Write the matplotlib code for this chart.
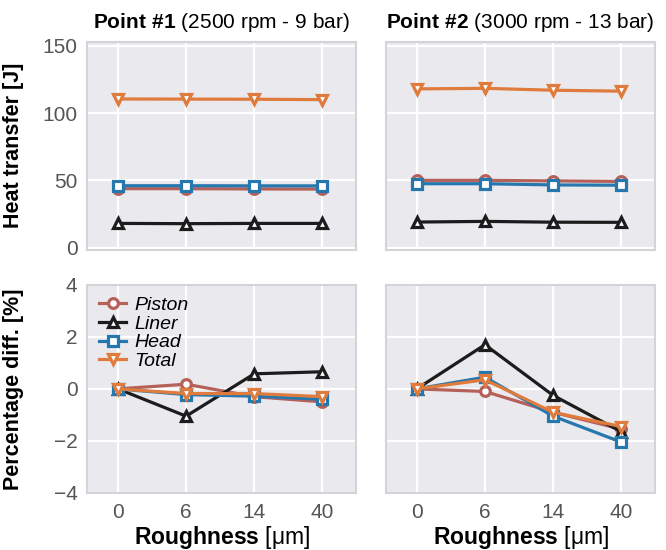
import numpy as np
import matplotlib
matplotlib.use("Agg")
import matplotlib.pyplot as plt

plt.rcParams['font.family'] = ['Liberation Sans', 'DejaVu Sans']
plt.rcParams['mathtext.fontset'] = 'custom'
plt.rcParams['mathtext.bf'] = 'Liberation Sans:bold'
plt.rcParams['mathtext.rm'] = 'Liberation Sans'

roughness = ['0', '6', '14', '40']
titles = [(r'$\bf{Point\ \#1}$', ' (2500 rpm - 9 bar)'),
          (r'$\bf{Point\ \#2}$', ' (3000 rpm - 13 bar)')]

# heat transfer [J]
piston_q1 = [43.8, 43.8, 43.6, 43.5]
liner_q1 = [18.0, 17.8, 18.0, 18.0]
head_q1 = [46.0, 46.0, 45.9, 45.9]
total_q1 = [110.5, 110.4, 110.3, 110.0]

piston_q2 = [50.0, 50.0, 49.6, 49.2]
liner_q2 = [19.0, 19.5, 18.9, 18.8]
head_q2 = [47.5, 47.5, 46.6, 46.4]
total_q2 = [118.0, 118.4, 117.0, 116.3]

# percentage difference vs smooth case [%]
piston_d1 = [0.0, 0.18, -0.3, -0.5]
liner_d1 = [0.0, -1.05, 0.58, 0.66]
head_d1 = [0.0, -0.22, -0.28, -0.4]
total_d1 = [0.0, -0.18, -0.18, -0.3]

piston_d2 = [0.0, -0.1, -0.9, -1.55]
liner_d2 = [0.0, 1.7, -0.25, -1.65]
head_d2 = [0.0, 0.45, -1.05, -2.05]
total_d2 = [0.0, 0.35, -0.9, -1.45]

names = ['Piston', 'Liner', 'Head', 'Total']
colors = ['#b5615a', '#1c1c1c', '#2677ae', '#df7b3c']
markers = ['o', '^', 's', 'v']

heat = [[piston_q1, liner_q1, head_q1, total_q1],
        [piston_q2, liner_q2, head_q2, total_q2]]
diff = [[piston_d1, liner_d1, head_d1, total_d1],
        [piston_d2, liner_d2, head_d2, total_d2]]

fig, axes = plt.subplots(2, 2, figsize=(6.66, 5.5), dpi=100)
fig.subplots_adjust(left=0.131, right=0.984, top=0.924, bottom=0.104,
                    wspace=0.11, hspace=0.17)

x = np.arange(len(roughness))
for col in range(2):
    for row, data in enumerate([heat[col], diff[col]]):
        ax = axes[row, col]
        ax.set_facecolor('#eaeaee')
        ax.grid(True, color='white', lw=1.6)
        ax.set_axisbelow(True)
        for s in ax.spines.values():
            s.set_color('#d4d4d8')
            s.set_linewidth(1.5)
        for vals, c, m, n in zip(data, colors, markers, names):
            ax.plot(x, vals, color=c, marker=m, ms=7, mfc='white', mec=c,
                    mew=2.3, lw=2.3, label=n)
        ax.set_xlim(-0.45, 3.5)
        ax.set_xticks(x)
        ax.tick_params(length=0, labelsize=15, labelcolor='#555555', pad=7)
        if row == 0:
            ax.set_ylim(-1.5, 153)
            ax.set_yticks([0, 50, 100, 150])
            ax.set_xticklabels([])
            ax.set_title(titles[col][0] + titles[col][1], fontsize=15, pad=10)
        else:
            ax.set_ylim(-4, 4)
            ax.set_yticks([-4, -2, 0, 2, 4])
            ax.set_xticklabels(roughness)
            ax.set_xlabel(r'$\bf{Roughness}$ [μm]', fontsize=16.5, labelpad=2)
        if col == 1:
            ax.set_yticklabels([])

axes[0, 0].set_ylabel('Heat transfer [J]', fontsize=15.5, fontweight='bold')
axes[1, 0].set_ylabel('Percentage diff. [%]', fontsize=15.5, fontweight='bold')
axes[0, 0].yaxis.set_label_coords(-0.235, 0.5)
axes[1, 0].yaxis.set_label_coords(-0.235, 0.5)

leg = axes[1, 0].legend(loc='upper left', frameon=False, fontsize=14,
                        handlelength=1.4, handletextpad=0.4, labelspacing=0.05,
                        borderaxespad=0.2)
for t in leg.get_texts():
    t.set_fontstyle('italic')

fig.savefig('out.png', dpi=100)
